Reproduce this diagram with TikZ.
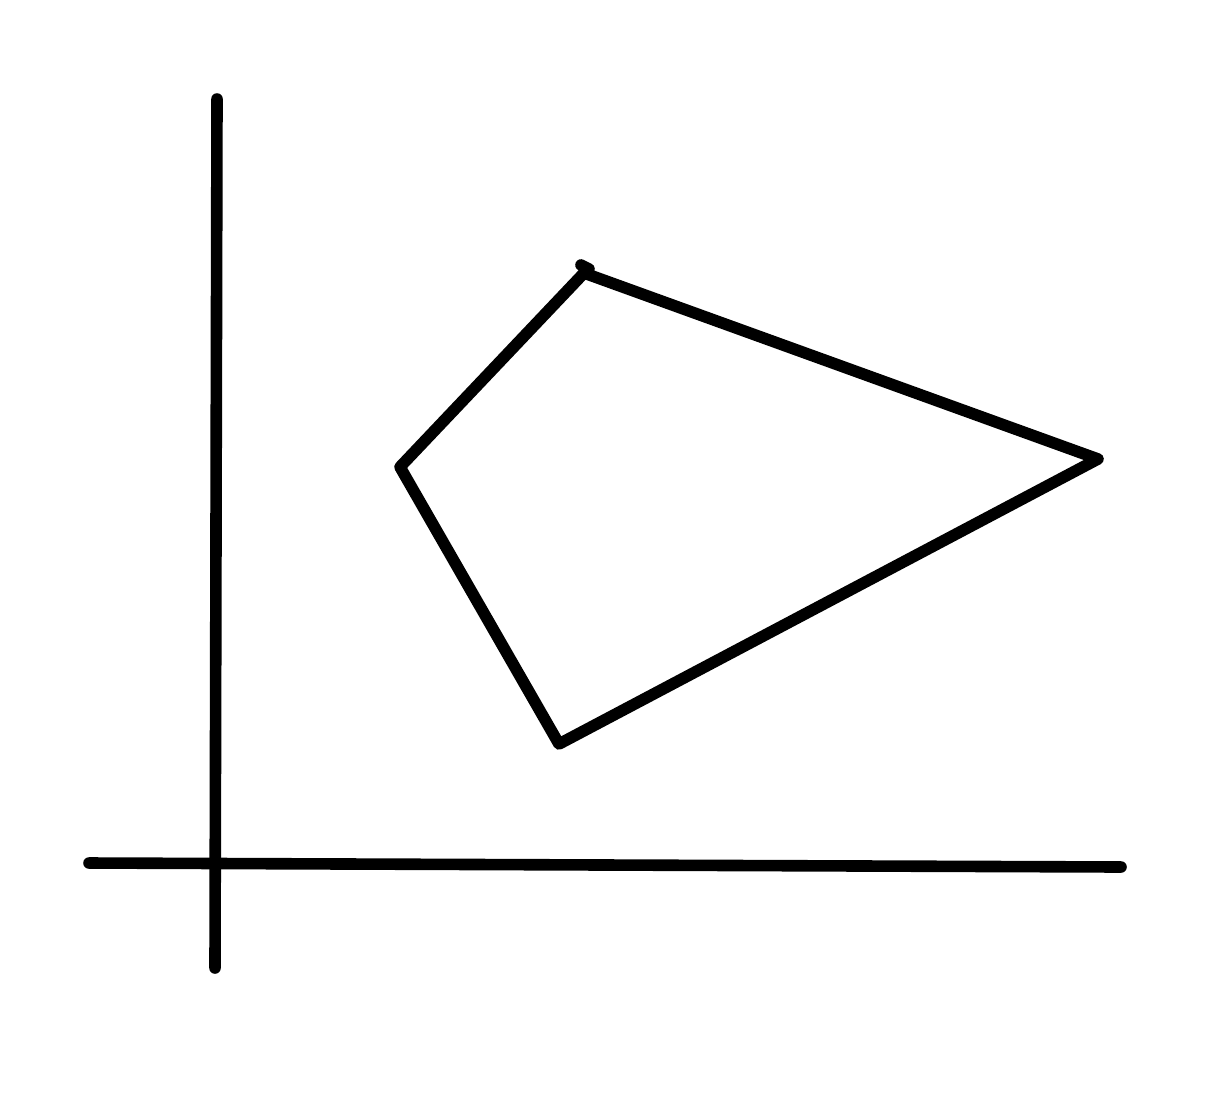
\documentclass[tikz,border=0pt]{standalone}
\begin{document}
\begin{tikzpicture}[x=0.5pt,y=-0.5pt,
  stroke/.style={line width=5.8pt,line cap=round,line join=round,draw=black}]
\useasboundingbox (0,0) rectangle (1220,1098);
\coordinate (vt) at (217,99);
\coordinate (vb) at (215,968);
\coordinate (hl) at (89,863);
\coordinate (hr) at (1121,867);
\coordinate (s1) at (581,265);
\coordinate (s2) at (589,269);
\coordinate (a) at (584,273);
\coordinate (b) at (1098,459);
\coordinate (c) at (559,744);
\coordinate (d) at (400,467);
\draw[stroke] (vt) -- (vb);
\draw[stroke] (hl) -- (hr);
\draw[stroke] (a) -- (b) -- (c) -- (d) -- cycle;
\draw[stroke] (s1) -- (s2) -- (a);
\end{tikzpicture}
\end{document}
